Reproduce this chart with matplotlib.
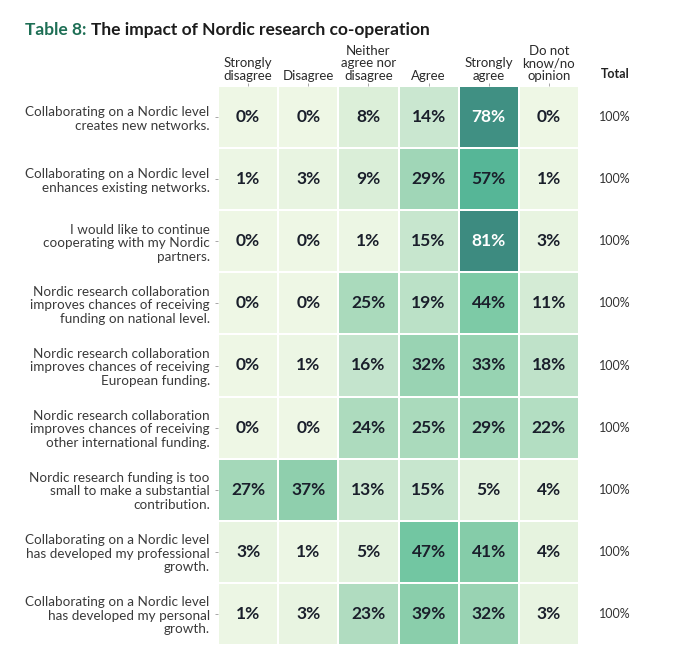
import numpy as np
import matplotlib.pyplot as plt
from matplotlib.colors import LinearSegmentedColormap

# Survey statements (rows) and answer categories (columns).
statements = [
    "Collaborating on a Nordic level\ncreates new networks.",
    "Collaborating on a Nordic level\nenhances existing networks.",
    "I would like to continue\ncooperating with my Nordic\npartners.",
    "Nordic research collaboration\nimproves chances of receiving\nfunding on national level.",
    "Nordic research collaboration\nimproves chances of receiving\nEuropean funding.",
    "Nordic research collaboration\nimproves chances of receiving\nother international funding.",
    "Nordic research funding is too\nsmall to make a substantial\ncontribution.",
    "Collaborating on a Nordic level\nhas developed my professional\ngrowth.",
    "Collaborating on a Nordic level\nhas developed my personal\ngrowth.",
]
answers = ["Strongly\ndisagree", "Disagree", "Neither\nagree nor\ndisagree",
           "Agree", "Strongly\nagree", "Do not\nknow/no\nopinion"]

strongly_disagree = [0, 1, 0, 0, 0, 0, 27, 3, 1]
disagree = [0, 3, 0, 0, 1, 0, 37, 1, 3]
neither = [8, 9, 1, 25, 16, 24, 13, 5, 23]
agree = [14, 29, 15, 19, 32, 25, 15, 47, 39]
strongly_agree = [78, 57, 81, 44, 33, 29, 5, 41, 32]
no_opinion = [0, 1, 3, 11, 18, 22, 4, 4, 3]
totals = ["100%"] * 9

data = np.array([strongly_disagree, disagree, neither,
                 agree, strongly_agree, no_opinion]).T

cmap = LinearSegmentedColormap.from_list("nordic", [
    (0.0, "#eef7e5"),
    (0.1, "#dcefd9"),
    (0.18, "#c8e6cf"),
    (0.33, "#a5d8b9"),
    (0.46, "#8ecfad"),
    (0.55, "#7ccaa6"),
    (0.6, "#6cc4a0"),
    (0.71, "#55b597"),
    (1.0, "#3d8b80"),
])

plt.rcParams["font.family"] = ["Lato", "DejaVu Sans"]

fig = plt.figure(figsize=(6.84, 6.6), dpi=100)
ax = fig.add_axes([218 / 684, 1 - 645 / 660, 361 / 684, 559 / 660])

nrows, ncols = data.shape
ax.pcolormesh(np.arange(ncols + 1), np.arange(nrows + 1), data, cmap=cmap,
              vmin=0, vmax=81, edgecolor="white", linewidth=1.2)
ax.set_xlim(0, ncols)
ax.set_ylim(nrows, 0)

for i in range(nrows):
    for j in range(ncols):
        v = data[i, j]
        ax.text(j + 0.5, i + 0.5, f"{v}%", ha="center", va="center",
                fontsize=12.5, fontweight="bold",
                color="white" if v > 70 else "#1a1f2b")
    ax.text(ncols + 0.6, i + 0.5, totals[i], ha="center", va="center",
            fontsize=9, color="#333333")

ax.text(ncols + 0.6, -0.1, "Total", ha="center", va="bottom",
        fontsize=9, fontweight="bold", color="#222222")

ax.set_yticks(np.arange(nrows) + 0.5)
ax.set_yticklabels(statements, fontsize=9.7, color="#3a3a3a", linespacing=1.15)
ax.set_xticks(np.arange(ncols) + 0.5)
ax.set_xticklabels(answers, fontsize=9.5, color="#2a2a2a", linespacing=1.05)
ax.xaxis.tick_top()
ax.tick_params(axis="x", length=2, width=0.6, color="#999999", pad=1)
ax.tick_params(axis="y", length=2, width=0.6, color="#999999", pad=4)
for s in ax.spines.values():
    s.set_visible(False)

fig.text(25 / 684, 1 - 30 / 660, "Table 8:", fontsize=12.5, fontweight="bold",
         color="#1e6f55", va="center", ha="left")
fig.text(91 / 684, 1 - 30 / 660, "The impact of Nordic research co-operation",
         fontsize=12.5, fontweight="bold", color="#1c1c1c", va="center", ha="left")

fig.savefig("out.png", dpi=100)
